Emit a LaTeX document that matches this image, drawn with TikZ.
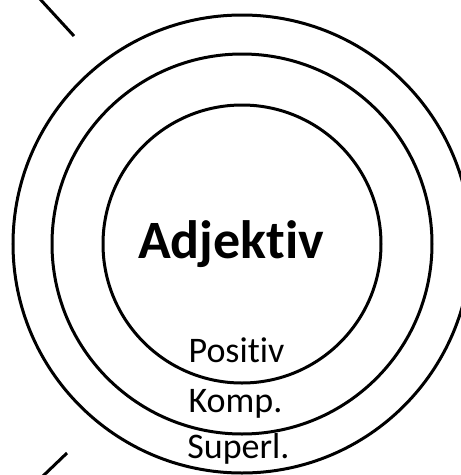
\documentclass[tikz,border=0pt]{standalone}
\usepackage{fontspec}
\setmainfont[Ligatures=NoCommon]{Carlito}
\usetikzlibrary{positioning}

\begin{document}
\begin{tikzpicture}[
  x=1pt, y=-1pt,
  ring/.style={draw, circle, line width=3pt, inner sep=0pt},
  title/.style={font=\fontsize{54}{54}\selectfont\bfseries, anchor=base, inner sep=0pt},
  lbl/.style={font=\fontsize{36}{36}\selectfont, anchor=base, inner sep=0pt},
  bar/.style={line width=3pt}
]
\useasboundingbox (0,0) rectangle (461,475);
\clip (0,0) rectangle (461,475);

\coordinate (c) at (242,244);
\node[ring, minimum size=458pt] (outer) at (c) {};
\node[ring, minimum size=380pt] (middle) at (c) {};
\node[ring, minimum size=278pt] (inner) at (c) {};

\node[title] (adj) at (231,258) {Adjektiv};
\node[lbl] (pos) at (236.5,362) {Positiv};
\node[lbl] (komp) at (235.5,412) {Komp.};
\node[lbl] (sup) at (238.5,458) {Superl.};

% cut-off strokes on the left
\coordinate (ta) at (40,-1);
\coordinate (tb) at (74,36);
\coordinate (ba) at (43,476);
\coordinate (bb) at (67,453);
\draw[bar] (ta) -- (tb);
\draw[bar] (ba) -- (bb);

\end{tikzpicture}
\end{document}
